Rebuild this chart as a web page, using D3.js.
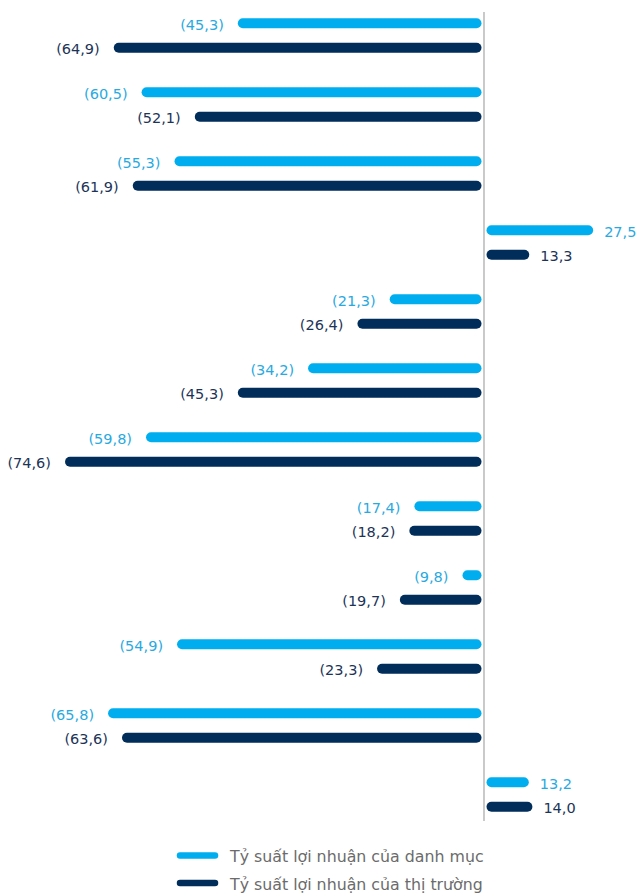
<!DOCTYPE html>
<html>
<head>
<meta charset="utf-8">
<script src="https://cdn.jsdelivr.net/npm/d3@7"></script>
<style>
  html, body { margin: 0; padding: 0; background: #fff; }
  svg { display: block; font-family: "DejaVu Sans", Verdana, sans-serif; }
</style>
</head>
<body>
<svg id="chart" width="637" height="895"></svg>
<script>
// ---- Data ----
const categories = ["1", "2", "3", "4", "5", "6", "7", "8", "9", "10", "11", "12"];
const portfolioReturn = [-45.3, -60.5, -55.3, 27.5, -21.3, -34.2, -59.8, -17.4, -9.8, -54.9, -65.8, 13.2];
const marketReturn = [-64.9, -52.1, -61.9, 13.3, -26.4, -45.3, -74.6, -18.2, -19.7, -23.3, -63.6, 14.0];
const seriesNames = ["Tỷ suất lợi nhuận của danh mục", "Tỷ suất lợi nhuận của thị trường"];
const seriesKeys = ["portfolio", "market"];
const seriesColors = ["#00AEEF", "#002D59"];
const labelColors = ["#29A9E1", "#1C3457"];

// ---- Layout ----
const svg = d3.select("#chart");
const axisX = 484;
const gap = 2.5;

// piecewise scale matching the drawing's proportions
const x = d3.scaleLinear()
  .domain([-80, -66, -6.8, 0, 3.8, 30])
  .range([38.8, 106.8, axisX - gap, axisX, axisX + gap, 604.4]);

const y = d3.scaleBand().domain(categories).range([1, 829]).padding(0);
const ySub = d3.scalePoint().domain(seriesKeys).range([y.bandwidth() / 2 - 12.25, y.bandwidth() / 2 + 12.25]);

const barH = 10;
const loc = d3.formatLocale({ decimal: ",", thousands: ".", grouping: [3], currency: ["", ""] });
const f1 = loc.format(".1f");
const fmt = v => v < 0 ? "(" + f1(-v) + ")" : f1(v);

const rows = [];
categories.forEach((c, i) => {
  rows.push({ cat: c, key: "portfolio", s: 0, v: portfolioReturn[i] });
  rows.push({ cat: c, key: "market", s: 1, v: marketReturn[i] });
});

// axis line at zero
svg.append("line")
  .attr("x1", x(0)).attr("x2", x(0))
  .attr("y1", 12).attr("y2", 821)
  .attr("stroke", "#B3B3B3").attr("stroke-width", 1.4);

const g = svg.append("g");
g.selectAll("rect.bar").data(rows).join("rect")
  .attr("class", "bar")
  .attr("x", d => d.v < 0 ? x(d.v) : x(0) + gap)
  .attr("width", d => d.v < 0 ? (x(0) - gap) - x(d.v) : x(d.v) - (x(0) + gap))
  .attr("y", d => y(d.cat) + ySub(d.key) - barH / 2)
  .attr("height", barH)
  .attr("rx", barH / 2).attr("ry", barH / 2)
  .attr("fill", d => seriesColors[d.s]);

g.selectAll("text.lbl").data(rows).join("text")
  .attr("class", "lbl")
  .attr("x", d => d.v < 0 ? x(d.v) - 14 : x(d.v) + 11)
  .attr("y", d => y(d.cat) + ySub(d.key) + 1.5)
  .attr("dy", "0.35em")
  .attr("text-anchor", d => d.v < 0 ? "end" : "start")
  .attr("font-size", 14.5)
  .attr("fill", d => labelColors[d.s])
  .text(d => fmt(d.v));

// legend
const legend = svg.append("g");
seriesNames.forEach((name, i) => {
  const ly = 855.5 + i * 27.5;
  legend.append("line")
    .attr("x1", 180).attr("x2", 215)
    .attr("y1", ly).attr("y2", ly)
    .attr("stroke", seriesColors[i]).attr("stroke-width", 6.5)
    .attr("stroke-linecap", "round");
  legend.append("text")
    .attr("x", 230).attr("y", ly + 1)
    .attr("dy", "0.35em")
    .attr("font-size", 15.8)
    .attr("fill", "#6B6B6B")
    .text(name);
});
</script>
</body>
</html>
